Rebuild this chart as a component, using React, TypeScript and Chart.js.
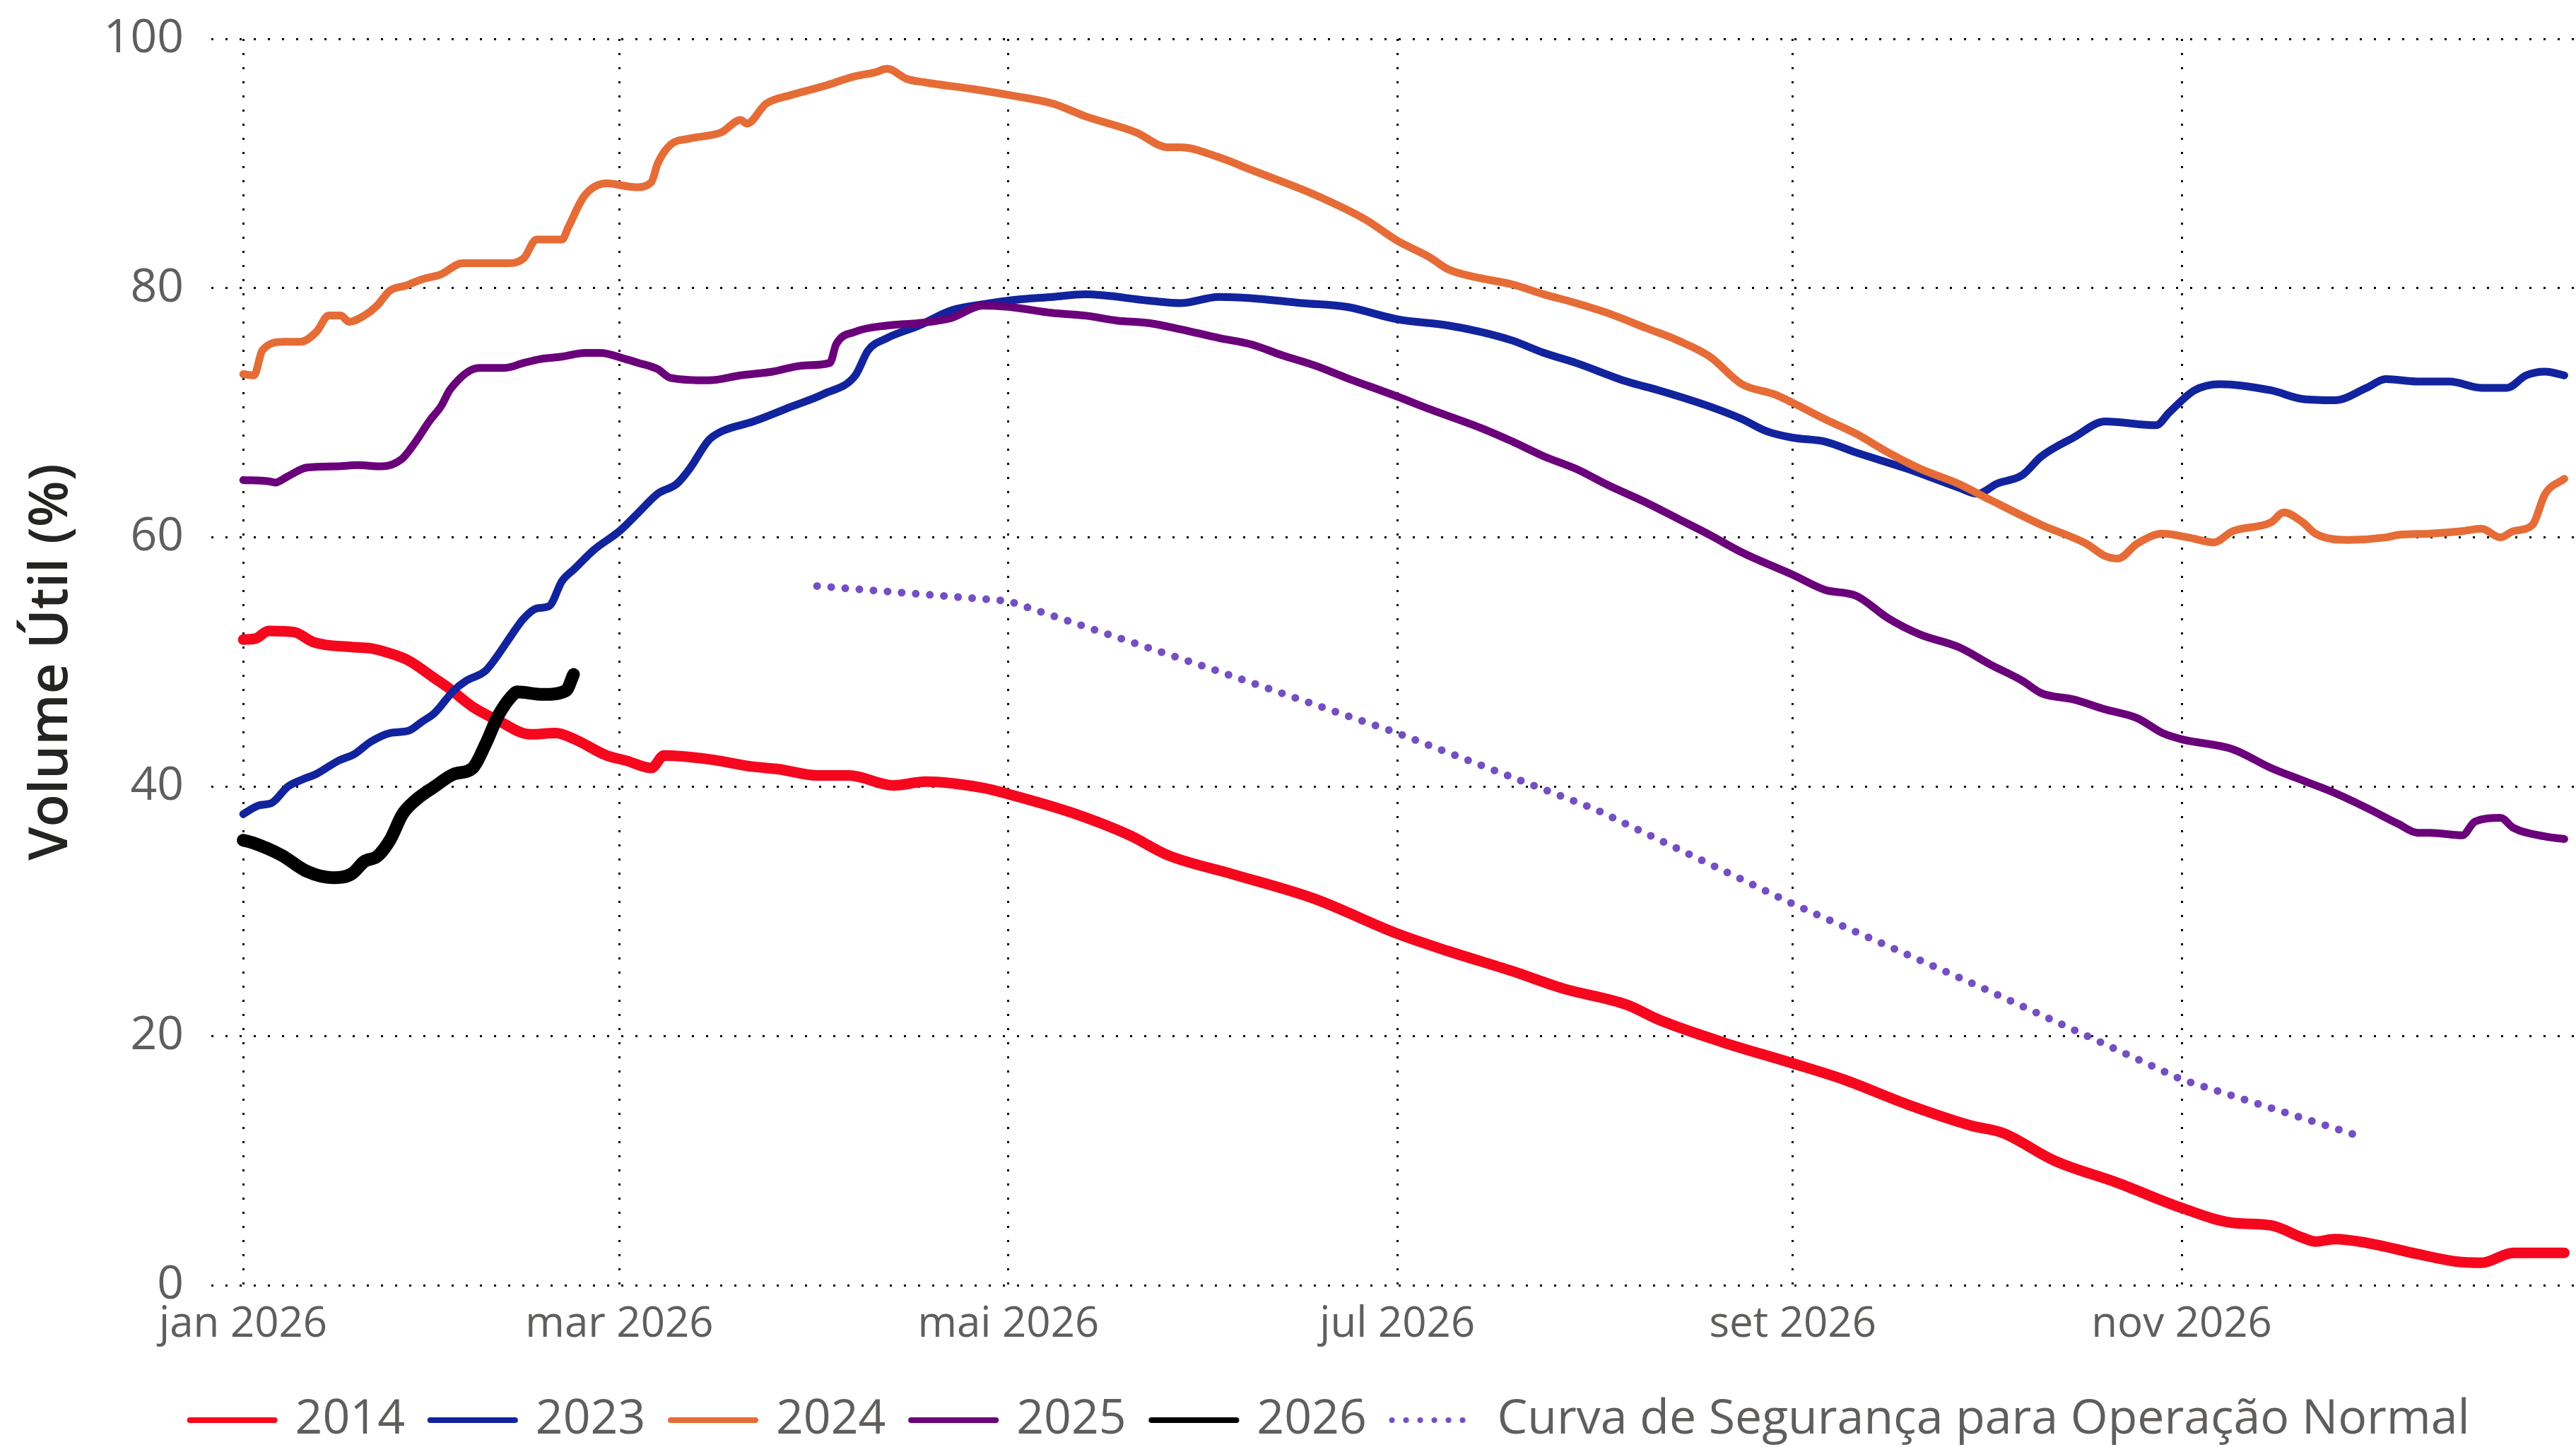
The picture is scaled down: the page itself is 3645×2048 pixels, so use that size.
import React, { useEffect, useRef } from 'react';
import { Chart, registerables } from 'chart.js';

Chart.register(...registerables);

const W = 3645;
const H = 2048;
const FONT = "'Open Sans', 'Noto Sans', sans-serif";
const GREY = '#605E5C';

// x axis: day of year 2026 (0 = 1 jan)
const tickDays = [0, 59, 120, 181, 243, 304];
const tickLabels = ['jan 2026', 'mar 2026', 'mai 2026', 'jul 2026', 'set 2026', 'nov 2026'];
const yTicks = [0, 20, 40, 60, 80, 100];

const seriesNames = ['2014', '2023', '2024', '2025', '2026', 'Curva de Segurança para Operação Normal'];

const days2014 = [0, 2, 4, 8, 11, 17, 20, 23, 26, 30, 32, 36, 40, 45, 49, 52, 57, 60, 64, 66, 73, 80, 84, 90, 95, 102, 107, 116, 120, 130, 139, 145, 155, 168, 181, 189, 199, 207, 217, 222, 232, 243, 251, 261, 271, 276, 284, 294, 304, 312, 318, 323, 325, 328, 333, 341, 347, 351, 356, 364];
const vol2014 = [51.8, 51.9, 52.5, 52.4, 51.6, 51.2, 51.1, 50.7, 50.1, 48.7, 48.0, 46.4, 45.3, 44.2, 44.3, 43.8, 42.5, 42.1, 41.5, 42.5, 42.2, 41.6, 41.4, 40.9, 40.9, 40.1, 40.4, 39.9, 39.4, 37.9, 36.1, 34.5, 33.0, 31.0, 28.2, 26.8, 25.2, 23.8, 22.5, 21.3, 19.5, 17.8, 16.5, 14.5, 12.8, 12.2, 10.0, 8.2, 6.2, 5.0, 4.8, 3.8, 3.5, 3.7, 3.4, 2.5, 1.9, 1.8, 2.6, 2.6];

const days2023 = [0, 2.5, 4.5, 7, 9.4, 11.4, 15, 17.4, 20, 23, 26, 28, 30, 33, 35, 38, 40, 42, 44, 46, 48, 50, 52, 55, 59, 62, 65, 68, 70, 73, 75, 80, 86, 91, 96, 98, 101, 106, 111, 116, 120, 127, 132, 142, 147, 153, 158, 166, 173, 181, 189, 194, 199, 204, 209, 217, 222, 230, 235, 239, 243, 248, 253, 261, 269, 272, 275, 279, 282, 287, 292, 300, 302, 306, 310, 318, 323, 328, 333, 336, 341, 346, 351, 355, 358, 361, 364];
const vol2023 = [37.8, 38.5, 38.7, 40.0, 40.6, 41.0, 42.1, 42.6, 43.6, 44.3, 44.5, 45.2, 45.9, 47.7, 48.5, 49.3, 50.6, 52.1, 53.5, 54.3, 54.5, 56.5, 57.5, 59.0, 60.5, 62.0, 63.5, 64.3, 65.5, 67.8, 68.5, 69.3, 70.5, 71.5, 73.0, 75.0, 76.0, 77.0, 78.2, 78.7, 79.0, 79.3, 79.5, 79.0, 78.8, 79.3, 79.2, 78.8, 78.5, 77.5, 77.0, 76.5, 75.8, 74.8, 74.0, 72.5, 71.8, 70.5, 69.5, 68.5, 68.0, 67.7, 66.8, 65.5, 64.0, 63.5, 64.3, 65.0, 66.5, 68.0, 69.3, 69.0, 70.0, 71.8, 72.3, 71.8, 71.1, 71.0, 72.0, 72.7, 72.5, 72.5, 72.0, 72.0, 73.0, 73.3, 73.0];

const days2024 = [0, 1.7, 3, 6.4, 9, 11.5, 13.4, 15.3, 16.6, 19, 21, 23, 25.5, 28, 31, 34.4, 41.5, 44, 46, 50, 51, 53.5, 57, 61.6, 64, 65, 67, 70, 75, 78, 79, 82, 86, 91, 96, 99, 101, 104, 107, 114, 120, 127, 132, 140, 145, 147, 153, 158, 168, 176, 181, 186, 189, 194, 199, 204, 209, 214, 220, 225, 230, 235, 240, 243, 248, 253, 258, 263, 269, 274, 282, 289, 292, 294, 297, 301, 305, 309, 312, 318, 320, 323, 325, 330, 336, 338, 343, 348, 351, 354, 356, 359, 361, 364];
const vol2024 = [73.1, 73.0, 75.0, 75.7, 75.7, 76.5, 77.8, 77.8, 77.3, 77.8, 78.6, 79.8, 80.2, 80.7, 81.1, 82.0, 82.0, 82.4, 83.9, 83.9, 84.9, 87.4, 88.4, 88.1, 88.5, 90.0, 91.5, 92.0, 92.5, 93.5, 93.2, 94.8, 95.5, 96.2, 97.0, 97.3, 97.6, 96.8, 96.5, 96.0, 95.5, 94.8, 93.8, 92.5, 91.3, 91.3, 90.5, 89.5, 87.5, 85.5, 83.8, 82.5, 81.5, 80.8, 80.3, 79.5, 78.8, 78.0, 76.8, 75.8, 74.5, 72.3, 71.5, 70.8, 69.5, 68.3, 66.8, 65.5, 64.3, 63.0, 61.0, 59.5, 58.5, 58.3, 59.5, 60.3, 60.0, 59.6, 60.5, 61.2, 62.0, 61.2, 60.3, 59.8, 60.0, 60.2, 60.3, 60.5, 60.7, 60.0, 60.5, 61.0, 63.5, 64.7];

const days2025 = [0, 4, 5, 7, 10, 14.7, 17.9, 21.7, 24.9, 26.8, 29.3, 31, 32.5, 37, 41, 44, 46.5, 50, 53.6, 56, 60, 62, 65, 67, 73, 78, 83, 88, 92, 93, 96, 101, 106, 111, 116, 120, 127, 132, 137, 142, 147, 153, 158, 163, 168, 173, 181, 186, 194, 199, 204, 209, 214, 220, 225, 230, 235, 243, 248, 253, 258, 263, 269, 274, 279, 282, 287, 292, 297, 301, 304, 312, 318, 323, 328, 333, 338, 341, 343, 348, 350, 354, 356, 361, 364];
const vol2025 = [64.6, 64.5, 64.4, 64.9, 65.6, 65.7, 65.8, 65.7, 66.3, 67.5, 69.4, 70.5, 71.9, 73.6, 73.6, 74.0, 74.3, 74.5, 74.8, 74.8, 74.3, 74.0, 73.5, 72.8, 72.6, 73.0, 73.3, 73.8, 74.0, 75.5, 76.5, 77.0, 77.2, 77.6, 78.6, 78.5, 78.0, 77.8, 77.4, 77.2, 76.7, 76.0, 75.5, 74.6, 73.8, 72.8, 71.3, 70.3, 68.8, 67.7, 66.5, 65.5, 64.2, 62.8, 61.5, 60.2, 58.8, 57.0, 55.8, 55.3, 53.5, 52.2, 51.2, 49.8, 48.5, 47.5, 47.0, 46.2, 45.5, 44.3, 43.8, 43.0, 41.5, 40.5, 39.5, 38.3, 37.0, 36.3, 36.3, 36.1, 37.2, 37.5, 36.7, 36.0, 35.8];

const days2026 = [0, 1.5, 6, 10, 14, 17, 19, 21, 23, 25, 27, 30, 33, 36, 38, 40, 42, 43, 47, 50.6, 51.8];
const vol2026 = [35.7, 35.5, 34.5, 33.2, 32.7, 33.0, 34.0, 34.4, 35.7, 37.8, 38.9, 40.0, 41.0, 41.5, 43.4, 45.7, 47.2, 47.6, 47.4, 47.7, 49.0];

const daysCurva = [90, 120, 151, 181, 212, 243, 273, 304, 331];
const volCurva = [56.1, 54.9, 49.6, 44.3, 38.2, 30.6, 23.8, 16.5, 12.1];

const colors = ['#F5071E', '#12239E', '#E66C37', '#6B007B', '#000000', '#744EC2'];
const widths = [15, 11, 11, 11, 18, 11];

function legendSample(color: string, dotted: boolean): HTMLCanvasElement {
  const c = document.createElement('canvas');
  c.width = 132;
  c.height = 12;
  const g = c.getContext('2d') as CanvasRenderingContext2D;
  g.strokeStyle = color;
  g.lineWidth = 8;
  g.lineCap = 'round';
  if (dotted) g.setLineDash([0, 20]);
  g.beginPath();
  g.moveTo(6, 6);
  g.lineTo(126, 6);
  g.stroke();
  return c;
}

export default function App() {
  const ref = useRef<HTMLCanvasElement>(null);

  useEffect(() => {
    document.body.style.margin = '0';
    const pts = (d: number[], v: number[]) => d.map((x, i) => ({ x, y: v[i] }));
    const allDays = [days2014, days2023, days2024, days2025, days2026, daysCurva];
    const allVals = [vol2014, vol2023, vol2024, vol2025, vol2026, volCurva];
    const orders = [5, 4, 3, 2, 0, 1];
    const samples = colors.map((c, i) => legendSample(c, i === 5));

    const datasets = seriesNames.map((name, i) => ({
      label: name,
      data: pts(allDays[i], allVals[i]),
      borderColor: colors[i],
      backgroundColor: colors[i],
      borderWidth: widths[i],
      borderCapStyle: 'round' as const,
      borderJoinStyle: 'round' as const,
      borderDash: i === 5 ? [0, 20] : [],
      pointRadius: 0,
      pointHoverRadius: 0,
      tension: 0,
      cubicInterpolationMode: (i === 5 ? 'default' : 'monotone') as any,
      order: orders[i],
    }));

    const legendShift = {
      id: 'legendShift',
      afterLayout(chart: any) {
        if (chart.legend) {
          chart.legend.left += 72;
          chart.legend.right += 72;
        }
      },
    };

    const chart = new Chart(ref.current as HTMLCanvasElement, {
      type: 'line',
      data: { datasets },
      plugins: [legendShift],
      options: {
        responsive: false,
        devicePixelRatio: 1,
        animation: false,
        events: [],
        layout: { padding: { left: 0, top: 55, right: 3, bottom: -6 } },
        scales: {
          x: {
            type: 'linear',
            min: -5,
            max: 365.5,
            afterBuildTicks: (s: any) => {
              s.ticks = tickDays.map((v) => ({ value: v }));
            },
            afterFit: (s: any) => {
              s.height = 134;
            },
            ticks: {
              autoSkip: false,
              maxRotation: 0,
              padding: 20,
              color: GREY,
              font: { family: FONT, size: 60 },
              callback: (v: any) => {
                const i = tickDays.indexOf(Number(v));
                return i >= 0 ? tickLabels[i] : '';
              },
            },
            grid: { color: '#000000', lineWidth: 3, drawTicks: false },
            border: { display: false, dash: [3, 17] },
          },
          y: {
            min: 0,
            max: 100,
            afterBuildTicks: (s: any) => {
              s.ticks = yTicks.map((v) => ({ value: v }));
            },
            afterFit: (s: any) => {
              s.width = 299;
            },
            ticks: {
              padding: 0,
              color: GREY,
              font: { family: FONT, size: 66 },
              callback: (v: any) => String(v),
            },
            grid: {
              color: '#000000',
              lineWidth: 3,
              drawTicks: true,
              tickLength: 39,
              tickColor: 'rgba(0,0,0,0)',
            },
            border: { display: false, dash: [3, 17] },
            title: {
              display: true,
              text: 'Volume Útil (%)',
              color: '#252423',
              font: { family: FONT, size: 76, weight: 600 as any },
              padding: { top: 28, bottom: 0 },
            },
          },
        },
        plugins: {
          tooltip: { enabled: false },
          legend: {
            position: 'bottom',
            labels: {
              color: GREY,
              font: { family: FONT, size: 68 },
              usePointStyle: true,
              pointStyleWidth: 110,
              padding: 23,
              sort: (a: any, b: any) => a.datasetIndex - b.datasetIndex,
              generateLabels: (c: any) => {
                const items = Chart.defaults.plugins.legend.labels.generateLabels(c);
                return items.map((it: any) => ({
                  ...it,
                  lineWidth: 8,
                  pointStyle: samples[it.datasetIndex],
                  text: it.text + ' ',
                }));
              },
            },
          },
        },
      },
    });
    return () => chart.destroy();
  }, []);

  return (
    <div style={{ width: W, height: H }}>
      <canvas ref={ref} width={W} height={H} style={{ display: 'block', width: W, height: H }} />
    </div>
  );
}
